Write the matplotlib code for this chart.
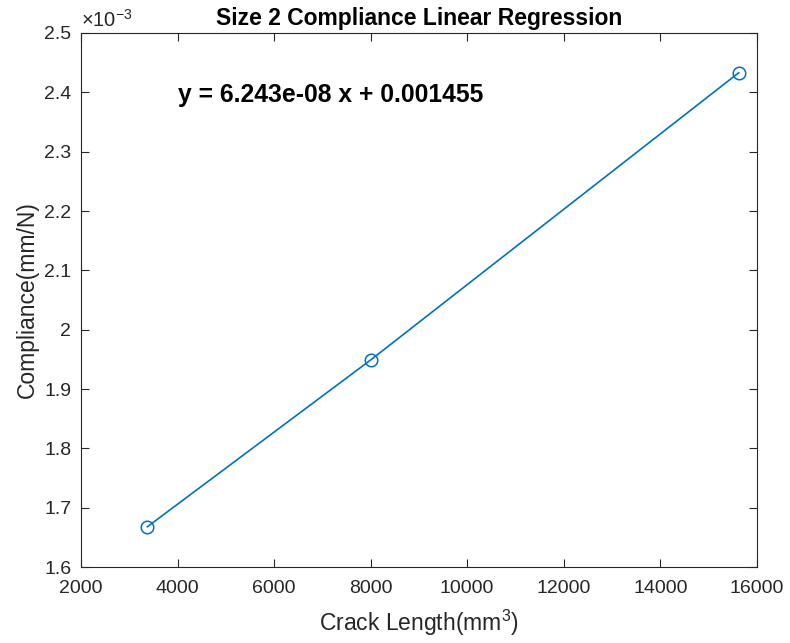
import matplotlib
matplotlib.use("Agg")
import matplotlib.pyplot as plt

plt.rcParams['font.family'] = ['Liberation Sans', 'DejaVu Sans']
plt.rcParams['mathtext.fontset'] = 'custom'
plt.rcParams['mathtext.rm'] = 'Liberation Sans'

# Crack length (mm^3) and measured compliance (mm/N)
crack_length = [3375, 8000, 15625]
compliance = [1.668e-3, 1.949e-3, 2.433e-3]

x_ticks = [2000, 4000, 6000, 8000, 10000, 12000, 14000, 16000]
x_tick_labels = ["2000", "4000", "6000", "8000", "10000", "12000", "14000", "16000"]
y_ticks = [1.6e-3, 1.7e-3, 1.8e-3, 1.9e-3, 2.0e-3, 2.1e-3, 2.2e-3, 2.3e-3, 2.4e-3, 2.5e-3]
y_tick_labels = ["1.6", "1.7", "1.8", "1.9", "2", "2.1", "2.2", "2.3", "2.4", "2.5"]

fit_label = "y = 6.243e-08 x + 0.001455"

axis_color = "#262626"
line_color = "#0072BD"

fig = plt.figure(figsize=(7.9, 6.43), dpi=100)
ax = fig.add_axes([0.1025, 0.118, 0.8555, 0.8307])

ax.plot(crack_length, compliance, '-o', color=line_color, linewidth=1.2,
        markersize=9, markerfacecolor='none', markeredgewidth=1.1)

ax.set_xlim(2000, 16000)
ax.set_ylim(1.6e-3, 2.5e-3)
ax.set_xticks(x_ticks)
ax.set_xticklabels(x_tick_labels)
ax.set_yticks(y_ticks)
ax.set_yticklabels(y_tick_labels)

for spine in ax.spines.values():
    spine.set_color(axis_color)
    spine.set_linewidth(0.8)
ax.tick_params(direction='in', length=6, width=0.8, colors=axis_color,
               labelsize=14, top=True, right=True)
ax.tick_params(axis='x', pad=9)
ax.tick_params(axis='y', pad=7)

ax.set_xlabel("Crack Length(mm$^3$)", fontsize=16.5, color=axis_color, labelpad=8)
ax.set_ylabel("Compliance(mm/N)", fontsize=16.5, color=axis_color, labelpad=4)
ax.set_title("Size 2 Compliance Linear Regression", fontsize=16.5, fontweight='bold',
             color='black', pad=6)

# exponent multiplier for the y axis
ax.text(0.0, 1.005, r"$\times$10$^{-3}$", transform=ax.transAxes, fontsize=14.5,
        color=axis_color, ha='left', va='bottom')

ax.text(4000, 2.395e-3, fit_label, fontsize=17.8, fontweight='bold',
        color='black', ha='left', va='center')

fig.savefig("out.png", dpi=100, facecolor='white')
